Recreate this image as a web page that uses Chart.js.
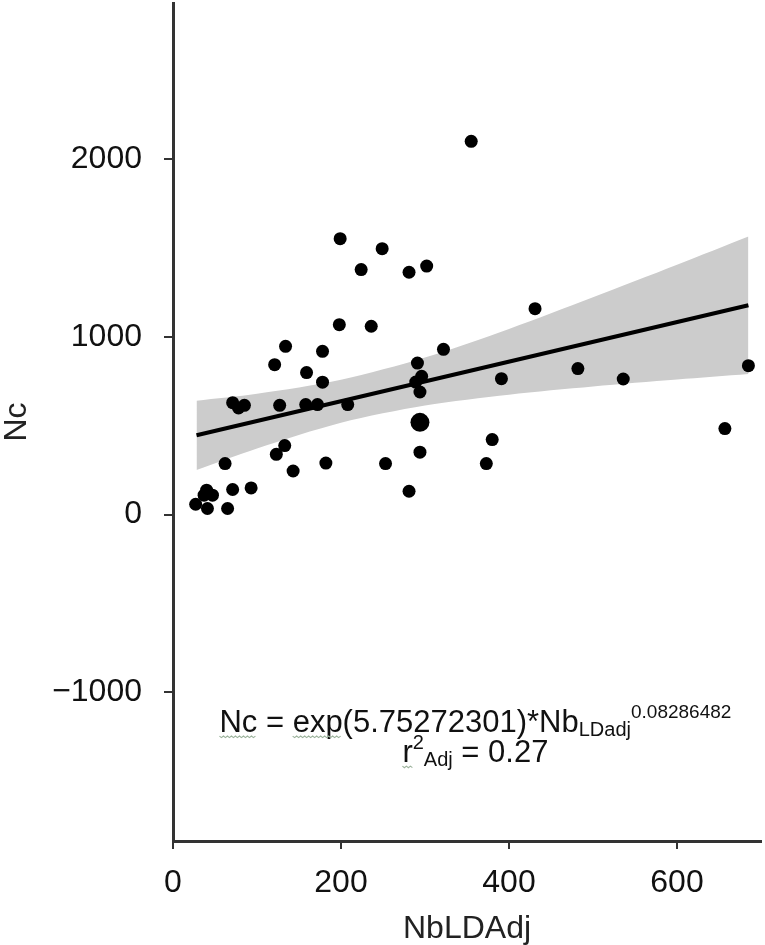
<!DOCTYPE html>
<html>
<head>
<meta charset="utf-8">
<script src="https://cdn.jsdelivr.net/npm/chart.js@4.4.1/dist/chart.umd.min.js"></script>
<style>
  body { margin: 0; background: #fff; }
</style>
</head>
<body>
<canvas id="nbChart" width="765" height="945"></canvas>
<script>
// one point per population: NbLDAdj (x) against Nc (y)
var nbX = [198, 236, 134, 178, 322, 121, 159, 178, 291, 296, 289, 294,
           71, 78, 85, 127, 158, 172, 208, 133, 123, 62, 143, 182,
           253, 294, 281, 71, 93, 40, 47, 37, 27, 41, 65,
           431, 391, 482, 536, 685, 657, 380, 373,
           199, 249, 224, 281, 302, 355];
var ncY = [1069, 1060, 947, 919, 930, 844, 799, 745, 853, 778, 746, 690,
           630, 600, 615, 615, 619, 619, 619, 388, 339, 287, 245, 290,
           287, 351, 131, 141, 150, 137, 109, 109, 58, 34, 34,
           1159, 765, 822, 763, 838, 484, 422, 287,
           1553, 1497, 1379, 1364, 1399, 2101];

// the larger dot
var bigX = [294];
var bigY = [519];

// fitted line and its grey confidence band
var fitX = [28, 685];
var fitY = [446, 1178];
var bandX = [28, 100, 200, 300, 400, 500, 600, 685];
var bandUpper = [641, 680, 759, 884, 1045, 1223, 1406, 1565];
var bandLower = [251, 372, 517, 614, 675, 721, 760, 791];

var xTicks = [0, 200, 400, 600];
var yTicks = [-1000, 0, 1000, 2000];

var FONT = '"Liberation Sans", Arial, Helvetica, sans-serif';

function toPoints(xs, ys) {
  return xs.map(function (x, i) { return { x: x, y: ys[i] }; });
}

// draws a line of text made of runs with different sizes / offsets, centred on cx
function drawRuns(c, cx, baseY, runs) {
  var total = 0;
  runs.forEach(function (r) {
    c.font = r.s + 'px ' + FONT;
    r.w = c.measureText(r.t).width;
    total += r.w;
  });
  var x = cx - total / 2;
  runs.forEach(function (r) {
    c.font = r.s + 'px ' + FONT;
    c.fillStyle = '#111';
    c.fillText(r.t, x, baseY + (r.dy || 0));
    if (r.under) {
      // faint wavy underline like the spell-check marks
      c.save();
      c.strokeStyle = '#9cb39c';
      c.lineWidth = 1.2;
      c.beginPath();
      for (var k = 0; k <= r.w; k += 2) {
        var yy = baseY + 4 + (k % 4 === 0 ? 0 : 1.5);
        if (k === 0) c.moveTo(x + k, yy); else c.lineTo(x + k, yy);
      }
      c.stroke();
      c.restore();
    }
    x += r.w;
  });
}

var equationLabel = {
  id: 'equationLabel',
  afterDatasetsDraw: function (chart) {
    var c = chart.ctx;
    var xs = chart.scales.x, ys = chart.scales.y;
    var cx = xs.getPixelForValue(360);
    c.save();
    c.textAlign = 'left';
    c.textBaseline = 'alphabetic';
    drawRuns(c, cx, ys.getPixelForValue(-1225), [
      { t: 'Nc', s: 31, under: true },
      { t: ' = ', s: 31 },
      { t: 'exp', s: 31, under: true },
      { t: '(5.75272301)*Nb', s: 31 },
      { t: 'LDadj', s: 20, dy: 4 },
      { t: '0.08286482', s: 19, dy: -14 }
    ]);
    drawRuns(c, cx, ys.getPixelForValue(-1394), [
      { t: 'r', s: 31, under: true },
      { t: '2', s: 20, dy: -13 },
      { t: 'Adj', s: 20, dy: 4 },
      { t: ' = 0.27', s: 31 }
    ]);
    c.restore();
  }
};

// keep the plot area pinned to the frame edges
function noEdgePadding(s) {
  s.paddingTop = 0;
  s.paddingBottom = 0;
  s.paddingLeft = 0;
  s.paddingRight = 0;
}

var ctx = document.getElementById('nbChart').getContext('2d');
var nbChart = new Chart(ctx, {
  type: 'scatter',
  data: {
    datasets: [
      {
        label: 'big',
        data: toPoints(bigX, bigY),
        backgroundColor: '#000',
        borderWidth: 0,
        pointRadius: 9.5
      },
      {
        label: 'Nc',
        data: toPoints(nbX, ncY),
        backgroundColor: '#000',
        borderWidth: 0,
        pointRadius: 6.5
      },
      {
        label: 'fit',
        data: toPoints(fitX, fitY),
        showLine: true,
        borderColor: '#000',
        borderWidth: 4,
        pointRadius: 0
      },
      {
        label: 'upper',
        data: toPoints(bandX, bandUpper),
        showLine: true,
        borderWidth: 0,
        borderColor: 'rgba(0,0,0,0)',
        backgroundColor: '#cccccc',
        pointRadius: 0,
        tension: 0.3,
        fill: '+1'
      },
      {
        label: 'lower',
        data: toPoints(bandX, bandLower),
        showLine: true,
        borderWidth: 0,
        borderColor: 'rgba(0,0,0,0)',
        pointRadius: 0,
        tension: 0.3,
        fill: false
      }
    ]
  },
  options: {
    responsive: false,
    animation: false,
    devicePixelRatio: 1,
    layout: { autoPadding: false, padding: { left: 0, right: 4, top: 3, bottom: 0 } },
    plugins: {
      legend: { display: false },
      tooltip: { enabled: false }
    },
    scales: {
      x: {
        type: 'linear',
        min: 0,
        max: 700,
        afterBuildTicks: function (s) { s.ticks = xTicks.map(function (v) { return { value: v }; }); },
        afterFit: function (s) { s.height = 104; noEdgePadding(s); },
        grid: { drawOnChartArea: false, drawTicks: true, tickLength: 8, color: '#333', lineWidth: 2 },
        border: { display: true, color: '#333', width: 3 },
        ticks: { color: '#111', padding: 15, font: { family: FONT, size: 32 }, maxRotation: 0 },
        title: {
          display: true,
          text: 'NbLDAdj',
          color: '#222',
          padding: { top: 3, bottom: 0 },
          font: { family: FONT, size: 32, lineHeight: 1 }
        }
      },
      y: {
        type: 'linear',
        min: -1838,
        max: 2880,
        afterBuildTicks: function (s) { s.ticks = yTicks.map(function (v) { return { value: v }; }); },
        afterFit: function (s) { s.width = 173; noEdgePadding(s); },
        grid: { drawOnChartArea: false, drawTicks: true, tickLength: 9, color: '#333', lineWidth: 2 },
        border: { display: true, color: '#333', width: 3 },
        ticks: {
          color: '#111',
          padding: 22,
          font: { family: FONT, size: 32 },
          callback: function (v) { return v < 0 ? '\u2212' + Math.abs(v) : String(v); }
        },
        title: {
          display: true,
          text: 'Nc',
          color: '#222',
          padding: { top: 1, bottom: 0 },
          font: { family: FONT, size: 32, lineHeight: 1 }
        }
      }
    }
  },
  plugins: [equationLabel]
});
</script>
</body>
</html>
